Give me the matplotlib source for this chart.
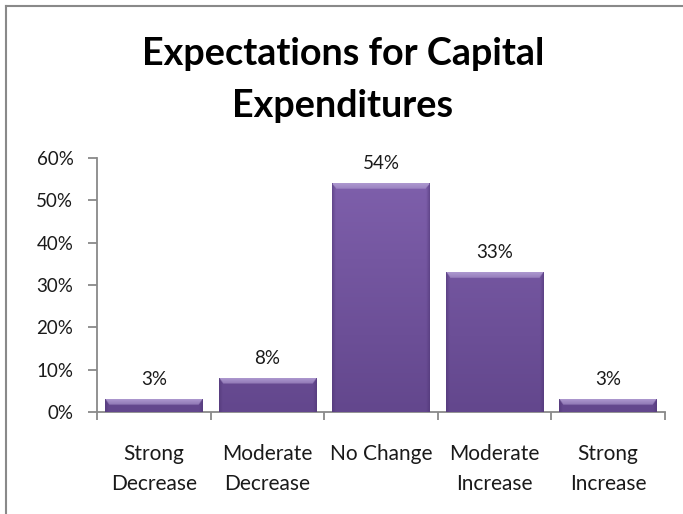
import matplotlib
matplotlib.use("Agg")
import matplotlib.pyplot as plt
from matplotlib.lines import Line2D
import numpy as np

categories = ["Strong\nDecrease", "Moderate\nDecrease", "No Change",
              "Moderate\nIncrease", "Strong\nIncrease"]
values = [3, 8, 54, 33, 3]
y_ticks = [0, 10, 20, 30, 40, 50, 60]
y_tick_labels = ["0%", "10%", "20%", "30%", "40%", "50%", "60%"]
title_lines = ["Expectations for Capital", "Expenditures"]

plt.rcParams["font.family"] = ["Lato", "DejaVu Sans"]

W, H = 683, 514
fig = plt.figure(figsize=(W / 100, H / 100), dpi=100)
fig.patch.set_facecolor("white")

ax = fig.add_axes([97 / W, 1 - 412 / H, (665 - 97) / W, (412 - 158) / H])
ax.set_xlim(-0.5, len(values) - 0.5)
ax.set_ylim(0, 60)

x = np.arange(len(values))
bar_w = 0.86
bars = ax.bar(x, values, width=bar_w, color="#7458a0", linewidth=0, zorder=2)

top_c = np.array([0x7e, 0x5f, 0xab]) / 255
bot_c = np.array([0x63, 0x47, 0x8d]) / 255
light_c = np.array([0xad, 0x98, 0xcf]) / 255
edge_c = np.array([0x4e, 0x35, 0x74]) / 255
band = 1.3  # height of the glossy top band, in data units

# shaded fill for each bar, clipped to the bar rectangle
for rect, v in zip(bars, values):
    x0 = rect.get_x()
    w = rect.get_width()
    ny, nx = 240, 120
    yy = np.linspace(v, 0, ny)[:, None]          # data y for each row (top first)
    xx = np.linspace(0, 1, nx)[None, :]          # fraction across the bar
    t = yy / 54.0
    img = bot_c + (top_c - bot_c) * np.clip(t, 0, 1)[..., None]
    img = np.broadcast_to(img, (ny, nx, 3)).copy()
    # darker side edges
    side = np.clip(1 - np.minimum(xx, 1 - xx) / 0.035, 0, 1)
    img = img * (1 - 0.55 * side[..., None]) + edge_c * 0.55 * side[..., None]
    # glossy top band, narrowing into a bevel at the corners
    depth = (v - yy) / band
    inset = np.minimum(xx, 1 - xx) / 0.04
    in_band = (depth < 1) & (inset > depth)
    glow = np.where(in_band, 1 - 0.4 * depth, 0)
    img = img * (1 - glow[..., None]) + light_c * glow[..., None]
    im = ax.imshow(img, extent=(x0, x0 + w, 0, v), aspect="auto",
                   interpolation="bilinear", zorder=3)
    im.set_clip_path(rect)
    ax.text(rect.get_x() + w / 2, v + 2.6, f"{v}%", ha="center",
            va="bottom", fontsize=13.5, color="#1a1a1a")

ax.set_xlim(-0.5, len(values) - 0.5)
ax.set_ylim(0, 60)
ax.set_yticks(y_ticks)
ax.set_yticklabels(y_tick_labels, fontsize=13.5, color="#1a1a1a")
ax.set_xticks(x)
ax.set_xticklabels(categories, fontsize=15, color="#1a1a1a", linespacing=1.6)
ax.tick_params(axis="x", length=0, pad=23)
ax.set_xticks(np.arange(len(values) + 1) - 0.5, minor=True)
ax.tick_params(axis="x", which="minor", length=5.5, color="#898989", width=1.3)
ax.tick_params(axis="y", length=6.5, color="#898989", width=1.3, pad=10.5)

for s in ["top", "right"]:
    ax.spines[s].set_visible(False)
for s in ["left", "bottom"]:
    ax.spines[s].set_color("#898989")
    ax.spines[s].set_linewidth(1.3)

for line, base_y in zip(title_lines, [65, 117]):
    fig.text(343 / W, 1 - base_y / H, line, ha="center", va="baseline",
             fontsize=27.2, fontweight="bold", color="black")

# outer frame edges
fig.add_artist(Line2D([6 / W, 6 / W], [0, 1 - 6 / H], color="#898989",
                      linewidth=1.5, transform=fig.transFigure))
fig.add_artist(Line2D([6 / W, 1], [1 - 6 / H, 1 - 6 / H], color="#898989",
                      linewidth=1.5, transform=fig.transFigure))

fig.savefig("out.png", dpi=100)
